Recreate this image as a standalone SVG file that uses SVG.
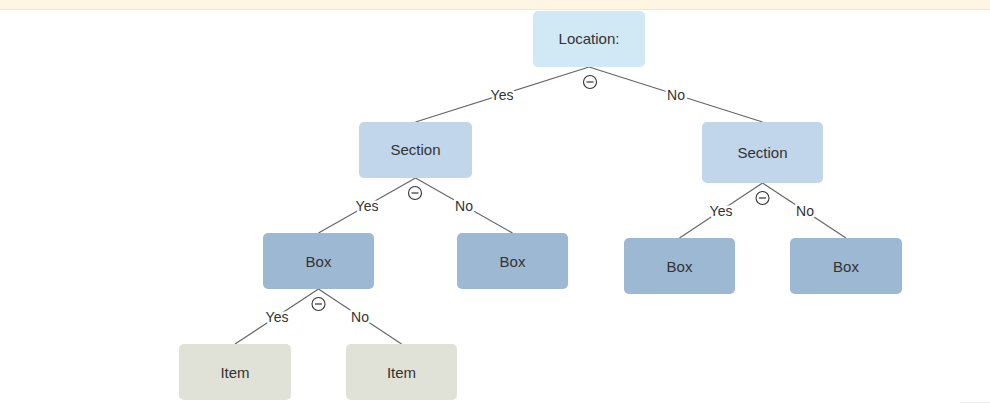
<svg xmlns="http://www.w3.org/2000/svg" width="990" height="404" viewBox="0 0 990 404">
<style>
.nt{font-family:"Liberation Sans",Arial,sans-serif;font-size:15px;fill:#333;text-anchor:middle}
.el{font-family:"Liberation Sans",Arial,sans-serif;font-size:14px;fill:#333;text-anchor:middle;stroke:#fff;stroke-width:5px;paint-order:stroke;stroke-linejoin:round}
.ln{stroke:#666;stroke-width:1.2;fill:none}
.tg{fill:#fff;stroke:#333;stroke-width:1.1}
.l0{fill:#d1e8f5}
.l1{fill:#c1d6ea}
.l2{fill:#9db8d2}
.l3{fill:#e0e2d8}
</style>
<rect x="0" y="0" width="990" height="404" fill="#fff"/>
<rect x="0" y="0" width="990" height="9" fill="#fef6e3"/>
<line x1="0" y1="9.5" x2="990" y2="9.5" stroke="#f3e8cf" stroke-width="1"/>
<line x1="960" y1="402.5" x2="990" y2="402.5" stroke="#eeeeee" stroke-width="1"/>
<g id="connectors">
<line class="ln" x1="589" y1="67" x2="415.5" y2="122"/>
<line class="ln" x1="589" y1="67" x2="762.5" y2="122"/>
<line class="ln" x1="415.5" y1="178" x2="318.5" y2="233"/>
<line class="ln" x1="415.5" y1="178" x2="512.5" y2="233"/>
<line class="ln" x1="762.5" y1="183" x2="679.5" y2="238"/>
<line class="ln" x1="762.5" y1="183" x2="846" y2="238"/>
<line class="ln" x1="318.5" y1="289" x2="235" y2="344"/>
<line class="ln" x1="318.5" y1="289" x2="401.5" y2="344"/>
<text class="el" x="502" y="100">Yes</text>
<text class="el" x="676" y="100">No</text>
<text class="el" x="367" y="211">Yes</text>
<text class="el" x="464" y="211">No</text>
<text class="el" x="721" y="216">Yes</text>
<text class="el" x="805" y="216">No</text>
<text class="el" x="277" y="322">Yes</text>
<text class="el" x="360" y="322">No</text>
</g>
<g id="toggles">
<g><circle class="tg" cx="590" cy="82" r="6.5"/><line x1="586.5" y1="82" x2="593.5" y2="82" stroke="#333" stroke-width="1.2"/></g>
<g><circle class="tg" cx="415" cy="193" r="6.5"/><line x1="411.5" y1="193" x2="418.5" y2="193" stroke="#333" stroke-width="1.2"/></g>
<g><circle class="tg" cx="762.5" cy="198" r="6.5"/><line x1="759" y1="198" x2="766" y2="198" stroke="#333" stroke-width="1.2"/></g>
<g><circle class="tg" cx="318.5" cy="304" r="6.5"/><line x1="315" y1="304" x2="322" y2="304" stroke="#333" stroke-width="1.2"/></g>
</g>
<g id="node-location"><rect class="l0" x="533" y="11" width="112" height="56" rx="5"/><text class="nt" x="589" y="44">Location:</text></g>
<g id="node-section-left"><rect class="l1" x="359" y="122" width="113" height="56" rx="5"/><text class="nt" x="415.5" y="155">Section</text></g>
<g id="node-section-right"><rect class="l1" x="702" y="122" width="121" height="61" rx="5"/><text class="nt" x="762.5" y="158">Section</text></g>
<g id="node-box-1"><rect class="l2" x="263" y="233" width="111" height="56" rx="5"/><text class="nt" x="318.5" y="267">Box</text></g>
<g id="node-box-2"><rect class="l2" x="457" y="233" width="111" height="56" rx="5"/><text class="nt" x="512.5" y="267">Box</text></g>
<g id="node-box-3"><rect class="l2" x="624" y="238" width="111" height="56" rx="5"/><text class="nt" x="679.5" y="272">Box</text></g>
<g id="node-box-4"><rect class="l2" x="790" y="238" width="112" height="56" rx="5"/><text class="nt" x="846" y="272">Box</text></g>
<g id="node-item-1"><rect class="l3" x="179" y="344" width="112" height="56" rx="5"/><text class="nt" x="235" y="378">Item</text></g>
<g id="node-item-2"><rect class="l3" x="346" y="344" width="111" height="56" rx="5"/><text class="nt" x="401.5" y="378">Item</text></g>
</svg>
